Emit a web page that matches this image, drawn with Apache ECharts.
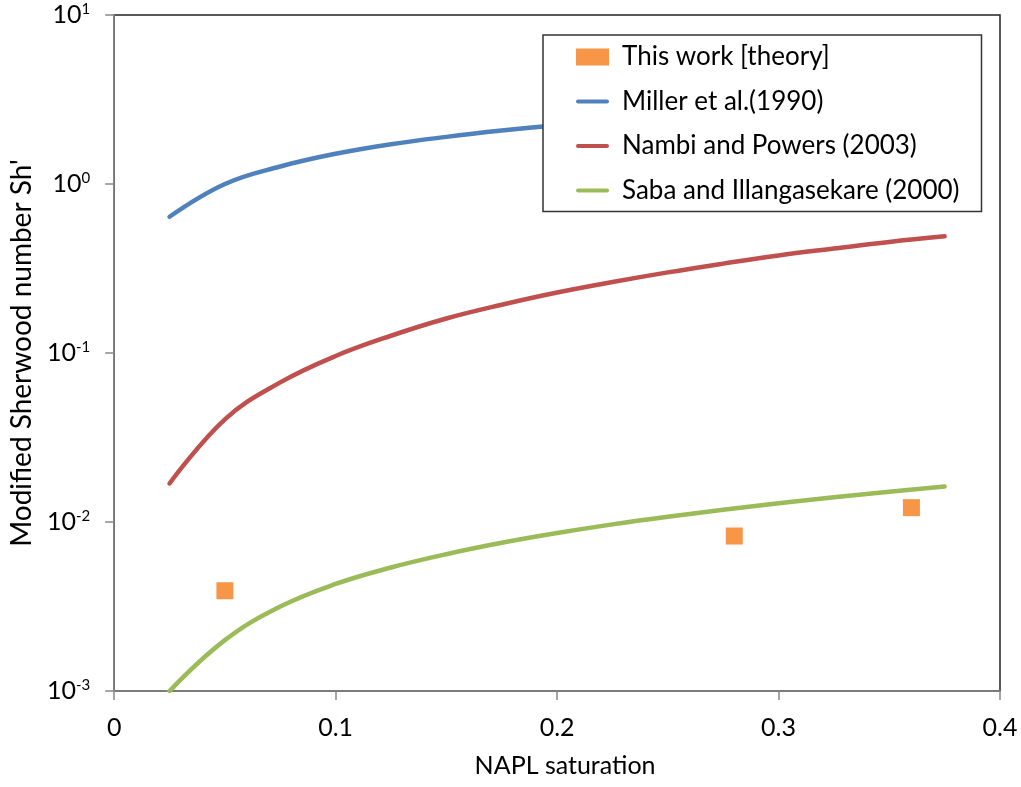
<!DOCTYPE html>
<html>
<head>
<meta charset="utf-8">
<script src="https://cdn.jsdelivr.net/npm/echarts@6/dist/echarts.min.js"></script>
<style>
  html, body { margin: 0; padding: 0; background: #fff; }
  #chart { width: 1021px; height: 787px; }
</style>
</head>
<body>
<div id="chart"></div>
<script>
// NAPL saturation values for the correlation curves
const saturation = [0.025, 0.05, 0.075, 0.1, 0.125, 0.15, 0.175, 0.2, 0.225, 0.25, 0.275, 0.3, 0.325, 0.35, 0.375];
// Modified Sherwood number Sh' per correlation
const miller = [0.64, 1.0, 1.27, 1.51, 1.72, 1.9, 2.07, 2.23, 2.38, 2.52, 2.66, 2.79, 2.92, 3.05, 3.17];
const nambi = [0.0169, 0.0405, 0.067, 0.096, 0.1265, 0.16, 0.193, 0.228, 0.263, 0.3, 0.338, 0.378, 0.415, 0.454, 0.49];
const saba = [0.001, 0.002, 0.00316, 0.0043, 0.00538, 0.00645, 0.00753, 0.0086, 0.00968, 0.01075, 0.0118, 0.0129, 0.014, 0.0151, 0.0162];
// This work [theory] points
const theoryX = [0.05, 0.28, 0.36];
const theoryY = [0.00392, 0.00826, 0.01216];

const seriesNames = ['This work [theory]', 'Miller et al.(1990)', 'Nambi and Powers (2003)', 'Saba and Illangasekare (2000)'];
const colors = ['#F79646', '#4F81BD', '#C0504D', '#9BBB59'];

const pairs = (xs, ys) => xs.map((x, i) => [x, ys[i]]);
const FONT = 'Lato';
const LINE_ICON = 'path://M2,0 L31,0 A2,2 0 0 1 31,4 L2,4 A2,2 0 0 1 2,0 Z';

const lineSeries = (name, ys, color) => ({
  name: name,
  type: 'line',
  data: pairs(saturation, ys),
  smooth: 0.4,
  symbol: 'none',
  showSymbol: false,
  lineStyle: { color: color, width: 4.5, cap: 'round', join: 'round' },
  itemStyle: { color: color },
  z: 3
});

const chart = echarts.init(document.getElementById('chart'), null, { renderer: 'canvas' });
chart.setOption({
  animation: false,
  backgroundColor: '#fff',
  grid: {
    left: 114, right: 21, top: 15, bottom: 96,
    show: true, borderColor: '#222', borderWidth: 1.5, backgroundColor: 'transparent'
  },
  legend: {
    orient: 'vertical',
    left: 543, top: 35,
    padding: [9, 22, 8, 33],
    itemGap: 18.5,
    itemWidth: 33,
    itemHeight: 17,
    backgroundColor: '#fff',
    borderColor: '#333',
    borderWidth: 1.5,
    textStyle: { fontFamily: FONT, fontSize: 26, lineHeight: 26, color: '#000', padding: [0, 0, 0, 8] },
    data: [
      { name: seriesNames[0], icon: 'rect' },
      { name: seriesNames[1], icon: LINE_ICON },
      { name: seriesNames[2], icon: LINE_ICON },
      { name: seriesNames[3], icon: LINE_ICON }
    ]
  },
  xAxis: {
    type: 'value',
    min: 0, max: 0.4, interval: 0.1,
    name: 'NAPL saturation',
    nameLocation: 'middle',
    nameGap: 62,
    nameTextStyle: { fontFamily: FONT, fontSize: 25, color: '#000', padding: [0, 0, 0, 16] },
    axisLine: { show: true, lineStyle: { color: '#888', width: 1.5 } },
    axisTick: { show: true, inside: false, length: 9, lineStyle: { color: '#888', width: 1.5 } },
    axisLabel: { fontFamily: FONT, fontSize: 25, color: '#000', margin: 24 },
    splitLine: { show: false }
  },
  yAxis: {
    type: 'log',
    logBase: 10,
    min: 0.001, max: 10,
    name: "Modified Sherwood number Sh'",
    nameLocation: 'middle',
    nameGap: 74,
    nameTextStyle: { fontFamily: FONT, fontSize: 28, color: '#000' },
    axisLine: { show: true, lineStyle: { color: '#888', width: 1.5 } },
    axisTick: { show: true, inside: false, length: 9, lineStyle: { color: '#888', width: 1.5 } },
    axisLabel: {
      margin: 24,
      formatter: function (v) {
        return '{b|10}{s|' + Math.round(Math.log10(v)) + '}';
      },
      rich: {
        b: { fontFamily: FONT, fontSize: 25, color: '#000', lineHeight: 26 },
        s: { fontFamily: FONT, fontSize: 15, color: '#000', lineHeight: 15, verticalAlign: 'top' }
      }
    },
    splitLine: { show: false },
    minorTick: { show: false }
  },
  series: [
    {
      name: seriesNames[0],
      type: 'scatter',
      data: pairs(theoryX, theoryY),
      symbol: 'rect',
      symbolSize: 17,
      itemStyle: { color: colors[0], opacity: 1 },
      z: 4
    },
    lineSeries(seriesNames[1], miller, colors[1]),
    lineSeries(seriesNames[2], nambi, colors[2]),
    lineSeries(seriesNames[3], saba, colors[3])
  ]
});
</script>
</body>
</html>
